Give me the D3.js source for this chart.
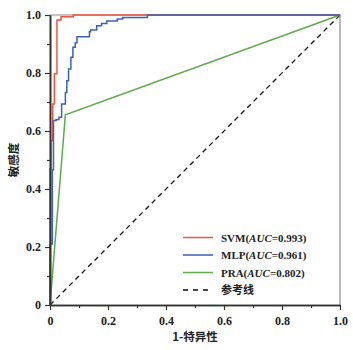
<!DOCTYPE html>
<html>
<head>
<meta charset="utf-8">
<script src="https://cdn.jsdelivr.net/npm/d3@7"></script>
<style>
  body { margin: 0; background: #fff; }
  svg text { font-family: "Liberation Serif", "DejaVu Serif", serif; }
  .cjk { font-family: "Noto Sans CJK SC", sans-serif; }
</style>
</head>
<body>
<svg class="roc" width="353" height="350"></svg>
<script>
// ROC points (fpr = 1-特异性, tpr = 敏感度)
const svmFpr = [0, 0, 0.0034, 0.0093, 0.015, 0.024, 0.038, 0.08, 1]
const svmTpr = [0, 0.47, 0.567, 0.693, 0.797, 0.983, 0.994, 1, 1]

const mlpFpr = [0, 0, 0.008, 0.012, 0.021, 0.031, 0.040, 0.053, 0.058, 0.064, 0.072, 0.079,
                0.087, 0.093, 0.136, 0.140, 0.161, 0.178, 0.196, 0.232, 0.251, 0.336, 1]
const mlpTpr = [0, 0.21, 0.466, 0.636, 0.64, 0.647, 0.693, 0.733, 0.773, 0.814, 0.854, 0.889,
                0.904, 0.925, 0.942, 0.948, 0.963, 0.971, 0.979, 0.986, 0.991, 1, 1]

const praFpr = [0, 0.053, 1]
const praTpr = [0, 0.656, 1]

const refFpr = [0, 1]
const refTpr = [0, 1]

const seriesNames = ["SVM", "MLP", "PRA"]
const seriesAuc = ["0.993", "0.961", "0.802"]
const seriesColors = ["#f2553f", "#3b60b8", "#5eab4a"]
const refName = "参考线"

const majorTicks = [0, 0.2, 0.4, 0.6, 0.8, 1.0]
const minorTicks = [0.1, 0.3, 0.5, 0.7, 0.9]

const xTitle = "1-特异性"
const yTitle = "敏感度"

//set SVG
var margin = { top: 15, right: 13, bottom: 45, left: 50 }
var width = 353 - margin.left - margin.right
var height = 350 - margin.top - margin.bottom
var svg = d3.select('.roc')

var x_scale = d3.scaleLinear().domain([0, 1]).range([margin.left, margin.left + width])
var y_scale = d3.scaleLinear().domain([0, 1]).range([margin.top + height, margin.top])

const fmt = d => d === 0 ? "0" : d3.format(".1f")(d)

// box (top + right in light gray)
svg.append('path')
    .attr('d', `M${x_scale(0)},${y_scale(1)}H${x_scale(1)}V${y_scale(0)}`)
    .attr('stroke', '#8a8a8a')
    .attr('stroke-width', 1.2)
    .attr('fill', 'none')

// reference line
var line = d3.line().x(d => x_scale(d[0])).y(d => y_scale(d[1]))
svg.append('path')
    .attr('d', line(d3.zip(refFpr, refTpr)))
    .attr('stroke', '#111')
    .attr('stroke-width', 1.3)
    .attr('stroke-dasharray', '5,4')
    .attr('fill', 'none')

// curves
var stepLine = d3.line().x(d => x_scale(d[0])).y(d => y_scale(d[1])).curve(d3.curveStepAfter)
const curves = [
    { fpr: praFpr, tpr: praTpr, color: seriesColors[2], gen: line },
    { fpr: svmFpr, tpr: svmTpr, color: seriesColors[0], gen: stepLine },
    { fpr: mlpFpr, tpr: mlpTpr, color: seriesColors[1], gen: stepLine },
]
curves.forEach(c => {
    svg.append('path')
        .attr('d', c.gen(d3.zip(c.fpr, c.tpr)))
        .attr('stroke', c.color)
        .attr('stroke-width', 1.5)
        .attr('fill', 'none')
})

// axes
function styleAxis(g) {
    g.select('.domain').attr('stroke', '#333').attr('stroke-width', 1.6)
    g.selectAll('.tick line').attr('stroke', '#333').attr('stroke-width', 1.2)
    g.selectAll('.tick text')
        .attr('fill', '#222')
        .style('font-size', '12px')
        .style('font-weight', 'bold')
        .style('font-family', '"Liberation Serif", serif')
}
var x_axis = svg.append('g')
    .attr('transform', `translate(0,${y_scale(0)})`)
    .call(d3.axisBottom(x_scale).tickValues(majorTicks).tickFormat(fmt).tickSize(5).tickPadding(6).tickSizeOuter(0))
styleAxis(x_axis)
var x_minor = svg.append('g')
    .attr('transform', `translate(0,${y_scale(0)})`)
    .call(d3.axisBottom(x_scale).tickValues(minorTicks).tickFormat('').tickSize(3).tickSizeOuter(0))
styleAxis(x_minor)

var y_axis = svg.append('g')
    .attr('transform', `translate(${x_scale(0)},0)`)
    .call(d3.axisLeft(y_scale).tickValues(majorTicks).tickFormat(fmt).tickSize(5).tickPadding(4).tickSizeOuter(0))
styleAxis(y_axis)
var y_minor = svg.append('g')
    .attr('transform', `translate(${x_scale(0)},0)`)
    .call(d3.axisLeft(y_scale).tickValues(minorTicks).tickFormat('').tickSize(3).tickSizeOuter(0))
styleAxis(y_minor)

// axis titles
svg.append('text')
    .attr('class', 'cjk')
    .attr('x', (x_scale(0) + x_scale(1)) / 2)
    .attr('y', 341)
    .attr('text-anchor', 'middle')
    .attr('fill', '#222')
    .style('font-size', '11.5px')
    .style('font-weight', 'bold')
    .text(xTitle)
svg.append('text')
    .attr('class', 'cjk')
    .attr('transform', `translate(18,${(y_scale(0) + y_scale(1)) / 2}) rotate(-90)`)
    .attr('text-anchor', 'middle')
    .attr('fill', '#222')
    .style('font-size', '11.5px')
    .style('font-weight', 'bold')
    .text(yTitle)

// legend
var legend = svg.append('g').attr('transform', 'translate(183,237.5)')
const rowH = 17.5
seriesNames.forEach((name, i) => {
    var row = legend.append('g').attr('transform', `translate(0,${i * rowH})`)
    row.append('line').attr('x1', 0).attr('x2', 30)
        .attr('stroke', seriesColors[i]).attr('stroke-width', 1.5)
    var t = row.append('text').attr('x', 38).attr('y', 4)
        .attr('fill', '#222')
        .style('font-size', '11px')
        .style('font-weight', 'bold')
    t.append('tspan').text(name + '(')
    t.append('tspan').style('font-style', 'italic').text('AUC')
    t.append('tspan').text('=' + seriesAuc[i] + ')')
})
var refRow = legend.append('g').attr('transform', `translate(0,${3 * rowH})`)
refRow.append('line').attr('x1', 0).attr('x2', 30)
    .attr('stroke', '#111').attr('stroke-width', 1.3).attr('stroke-dasharray', '5,5')
refRow.append('text').attr('class', 'cjk').attr('x', 38).attr('y', 4)
    .attr('fill', '#222')
    .style('font-size', '11px')
    .style('font-weight', 'bold')
    .text(refName)
</script>
</body>
</html>
